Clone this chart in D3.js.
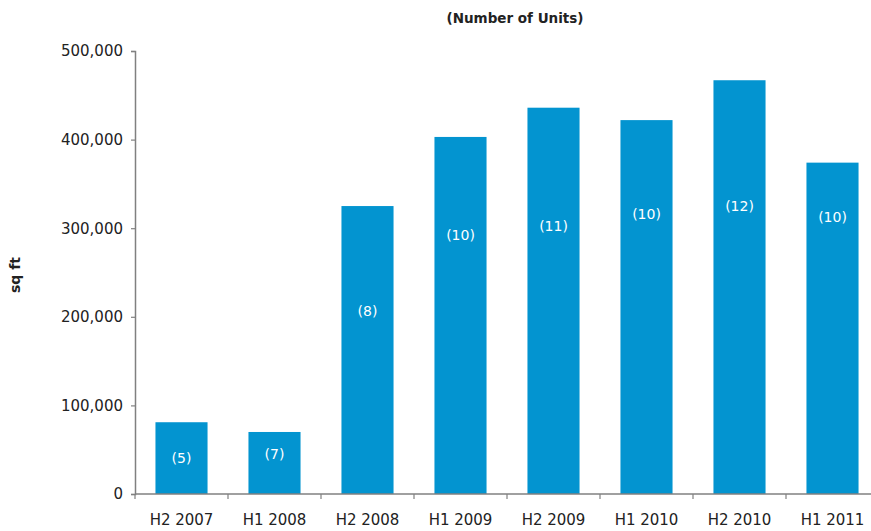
<!DOCTYPE html>
<html>
<head>
<meta charset="utf-8">
<script src="https://cdn.jsdelivr.net/npm/d3@7"></script>
<style>
  body { margin: 0; background: #fff; }
  text { font-family: "DejaVu Sans", "Noto Sans", sans-serif; }
</style>
</head>
<body>
<div id="viz"></div>
<script>
var periods = ["H2 2007", "H1 2008", "H2 2008", "H1 2009", "H2 2009", "H1 2010", "H2 2010", "H1 2011"];
var sqft = [81000, 70000, 325000, 403000, 436000, 422000, 467000, 374000];
var units = [5, 7, 8, 10, 11, 10, 12, 10];
var yTicks = [0, 100000, 200000, 300000, 400000, 500000];

var w = 871, h = 531;
var margin = {top: 51, right: -8, bottom: 37, left: 135};

var svg = d3.select("#viz").append("svg")
  .attr("width", w)
  .attr("height", h);

var x = d3.scaleBand()
  .domain(periods)
  .range([margin.left, w - margin.right])
  .paddingInner(0.44)
  .paddingOuter(0.22);

var y = d3.scaleLinear()
  .domain([0, 500000])
  .range([h - margin.bottom, margin.top]);

// bars
svg.selectAll("rect.bar")
  .data(periods)
  .enter().append("rect")
  .attr("class", "bar")
  .attr("x", function(d) { return x(d); })
  .attr("width", x.bandwidth())
  .attr("y", function(d, i) { return y(sqft[i]); })
  .attr("height", function(d, i) { return y(0) - y(sqft[i]); })
  .attr("fill", "#0394d0");

// unit counts sit at hand-placed heights inside the bars (sq ft units)
var labelAt = [40600, 45000, 206500, 292000, 302000, 316000, 325000, 312600];
svg.selectAll("text.units")
  .data(periods)
  .enter().append("text")
  .attr("class", "units")
  .attr("x", function(d) { return x(d) + x.bandwidth() / 2; })
  .attr("y", function(d, i) { return y(labelAt[i]); })
  .attr("dy", "0.35em")
  .attr("text-anchor", "middle")
  .attr("fill", "#fff")
  .style("font-size", "14px")
  .text(function(d, i) { return "(" + units[i] + ")"; });

// y axis
var yAxis = svg.append("g")
  .attr("transform", "translate(" + margin.left + ",0)")
  .call(d3.axisLeft(y).tickValues(yTicks).tickSize(4).tickPadding(8)
    .tickFormat(d3.format(",")));

// x axis
var xAxis = svg.append("g")
  .attr("transform", "translate(0," + y(0) + ")")
  .call(d3.axisBottom(x).tickSize(0).tickPadding(20));

// ticks between the categories
var step = x.step();
svg.selectAll("line.sep")
  .data(periods)
  .enter().append("line")
  .attr("class", "sep")
  .attr("x1", function(d) { return x(d) - x.paddingOuter() * step; })
  .attr("x2", function(d) { return x(d) - x.paddingOuter() * step; })
  .attr("y1", y(0))
  .attr("y2", y(0) + 5)
  .attr("stroke", "#808080")
  .attr("stroke-width", 1.2);

[yAxis, xAxis].forEach(function(g) {
  g.select(".domain").attr("stroke", "#808080").attr("stroke-width", 1.5);
  g.selectAll(".tick line").attr("stroke", "#808080").attr("stroke-width", 1.2);
  g.selectAll(".tick text")
    .attr("fill", "#222")
    .style("font-size", "15px")
    .style("font-family", "'DejaVu Sans', 'Noto Sans', sans-serif");
});
xAxis.select(".domain").attr("d", "M" + margin.left + ",0H" + w);

// title
svg.append("text")
  .attr("x", 515)
  .attr("y", 23)
  .attr("text-anchor", "middle")
  .attr("fill", "#222")
  .style("font-size", "13.5px")
  .style("font-weight", "bold")
  .text("(Number of Units)");

// y label
svg.append("text")
  .attr("transform", "translate(20,275) rotate(-90)")
  .attr("text-anchor", "middle")
  .attr("fill", "#222")
  .style("font-size", "14px")
  .style("font-weight", "bold")
  .text("sq ft");
</script>
</body>
</html>
